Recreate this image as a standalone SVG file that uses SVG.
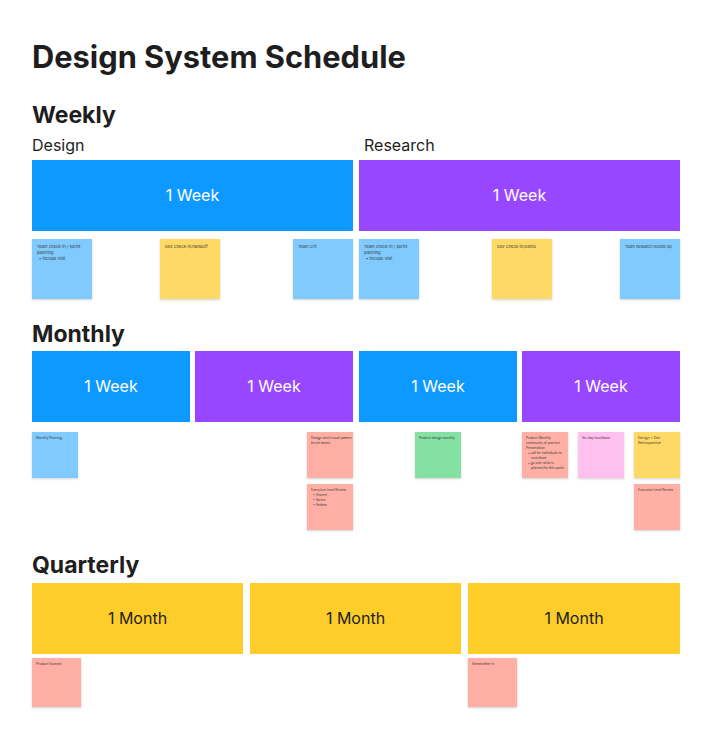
<svg xmlns="http://www.w3.org/2000/svg" width="713" height="740" viewBox="0 0 713 740">
  <defs>
    <filter id="shadow" x="-10%" y="-10%" width="120%" height="130%">
      <feDropShadow dx="0" dy="1" stdDeviation="0.8" flood-color="#000" flood-opacity="0.18"/>
    </filter>
  </defs>
  <style>
    text { font-family: Inter, "Liberation Sans", sans-serif; }
    .title { font-size: 30.8px; font-weight: 700; fill: #1e1e1e; }
    .h2 { font-size: 23px; font-weight: 700; fill: #1e1e1e; }
    .h3 { font-size: 16px; fill: #1e1e1e; }
    .bar-label { font-size: 16px; fill: #ffffff; text-anchor: middle; }
    .bar-label-dark { font-size: 16px; fill: #1e1e1e; text-anchor: middle; }
    .blue { fill: #0d99ff; }
    .purple { fill: #9747ff; }
    .gold { fill: #ffcd29; }
    .note { filter: url(#shadow); }
    .n-blue { fill: #80caff; }
    .n-yellow { fill: #ffd966; }
    .n-red { fill: #ffafa3; }
    .n-green { fill: #85e0a3; }
    .n-pink { fill: #ffc0ef; }
    .nt { font-size: 4.1px; fill: #3a3a3a; }
    .ns { font-size: 3.2px; fill: #3a3a3a; }
    .nm { font-size: 3.5px; fill: #3a3a3a; }
  </style>

  <!-- headings -->
  <text class="title" x="32" y="68">Design System Schedule</text>
  <text class="h2" x="32" y="123">Weekly</text>
  <text class="h3" x="32" y="151">Design</text>
  <text class="h3" x="364" y="151">Research</text>
  <text class="h2" x="32" y="342">Monthly</text>
  <text class="h2" x="32" y="573">Quarterly</text>

  <!-- Weekly bars -->
  <g id="weekly-design">
    <rect class="blue" x="32" y="160" width="321" height="71"/>
    <text class="bar-label" x="192.5" y="201">1 Week</text>
  </g>
  <g id="weekly-research">
    <rect class="purple" x="359" y="160" width="321" height="71"/>
    <text class="bar-label" x="519.5" y="201">1 Week</text>
  </g>

  <!-- Weekly notes -->
  <g id="w-note-1">
    <rect class="note n-blue" x="32" y="239" width="60" height="60"/>
    <text class="nt" x="37" y="248">Team check-in / sprint</text>
    <text class="nt" x="37" y="254">planning</text>
    <text class="nt" x="39" y="260">•  include visit</text>
  </g>
  <g id="w-note-2">
    <rect class="note n-yellow" x="160" y="239" width="60" height="60"/>
    <text class="nt" x="165" y="248">Dev Check-in/handoff</text>
  </g>
  <g id="w-note-3">
    <rect class="note n-blue" x="293" y="239" width="60" height="60"/>
    <text class="nt" x="298" y="248">Team Crit</text>
  </g>
  <g id="w-note-4">
    <rect class="note n-blue" x="359" y="239" width="60" height="60"/>
    <text class="nt" x="364" y="248">Team check-in / sprint</text>
    <text class="nt" x="364" y="254">planning</text>
    <text class="nt" x="366" y="260">•  include visit</text>
  </g>
  <g id="w-note-5">
    <rect class="note n-yellow" x="492" y="239" width="60" height="60"/>
    <text class="nt" x="497" y="248">Dev Check-in/Demo</text>
  </g>
  <g id="w-note-6">
    <rect class="note n-blue" x="620" y="239" width="60" height="60"/>
    <text class="nt" x="625" y="248" style="font-size:3.8px">Team Research Round-up</text>
  </g>

  <!-- Monthly bars -->
  <g id="monthly-1">
    <rect class="blue" x="32" y="351" width="158" height="71"/>
    <text class="bar-label" x="111" y="392">1 Week</text>
  </g>
  <g id="monthly-2">
    <rect class="purple" x="195" y="351" width="158" height="71"/>
    <text class="bar-label" x="274" y="392">1 Week</text>
  </g>
  <g id="monthly-3">
    <rect class="blue" x="359" y="351" width="158" height="71"/>
    <text class="bar-label" x="438" y="392">1 Week</text>
  </g>
  <g id="monthly-4">
    <rect class="purple" x="522" y="351" width="158" height="71"/>
    <text class="bar-label" x="601" y="392">1 Week</text>
  </g>

  <!-- Monthly notes -->
  <g id="m-note-1">
    <rect class="note n-blue" x="32" y="432" width="46" height="46"/>
    <text class="ns" x="36" y="439">Monthly Planning</text>
  </g>
  <g id="m-note-2">
    <rect class="note n-red" x="307" y="432" width="46" height="46"/>
    <text class="ns" x="311" y="439" style="font-size:3.3px">Design tech/visual pattern</text>
    <text class="ns" x="311" y="444" style="font-size:3.3px">brush teams</text>
  </g>
  <g id="m-note-3">
    <rect class="note n-red" x="307" y="484" width="46" height="46"/>
    <text class="ns" x="311" y="491">Executive Level Review</text>
    <text class="ns" x="313" y="496">•  Vincent</text>
    <text class="ns" x="313" y="501">•  Sarina</text>
    <text class="ns" x="313" y="506">•  Andrea</text>
  </g>
  <g id="m-note-4">
    <rect class="note n-green" x="415" y="432" width="46" height="46"/>
    <text class="ns" x="419" y="439">Product design monthly</text>
  </g>
  <g id="m-note-5">
    <rect class="note n-red" x="522" y="432" width="46" height="46"/>
    <text class="ns" x="526" y="439">Product Monthly</text>
    <text class="ns" x="526" y="444">community of practice</text>
    <text class="ns" x="526" y="449">Presentation</text>
    <text class="ns" x="528" y="454">•  call for individuals to</text>
    <text class="ns" x="531" y="459">contribute</text>
    <text class="ns" x="528" y="464">•  go over what is</text>
    <text class="ns" x="531" y="469">planned for this sprint</text>
  </g>
  <g id="m-note-6">
    <rect class="note n-pink" x="578" y="432" width="46" height="46"/>
    <text class="ns" x="582" y="439">Six-day touchbase</text>
  </g>
  <g id="m-note-7">
    <rect class="note n-yellow" x="634" y="432" width="46" height="46"/>
    <text class="nm" x="638" y="439">Design + Dev</text>
    <text class="nm" x="638" y="444">Retrospective</text>
  </g>
  <g id="m-note-8">
    <rect class="note n-red" x="634" y="484" width="46" height="46"/>
    <text class="ns" x="638" y="491">Executive Level Review</text>
  </g>

  <!-- Quarterly bars -->
  <g id="quarterly-1">
    <rect class="gold" x="32" y="583" width="211" height="71"/>
    <text class="bar-label-dark" x="137.5" y="624">1 Month</text>
  </g>
  <g id="quarterly-2">
    <rect class="gold" x="250" y="583" width="211" height="71"/>
    <text class="bar-label-dark" x="355.5" y="624">1 Month</text>
  </g>
  <g id="quarterly-3">
    <rect class="gold" x="468" y="583" width="212" height="71"/>
    <text class="bar-label-dark" x="574" y="624">1 Month</text>
  </g>

  <!-- Quarterly notes -->
  <g id="q-note-1">
    <rect class="note n-red" x="32" y="658" width="49" height="49"/>
    <text class="ns" x="36" y="665" style="font-size:3.4px">Product Summit</text>
  </g>
  <g id="q-note-2">
    <rect class="note n-red" x="468" y="658" width="49" height="49"/>
    <text class="ns" x="472" y="665">Sweatsletter In</text>
  </g>

  <!-- no connectors in this schedule -->
  <g id="connectors"/>
</svg>
